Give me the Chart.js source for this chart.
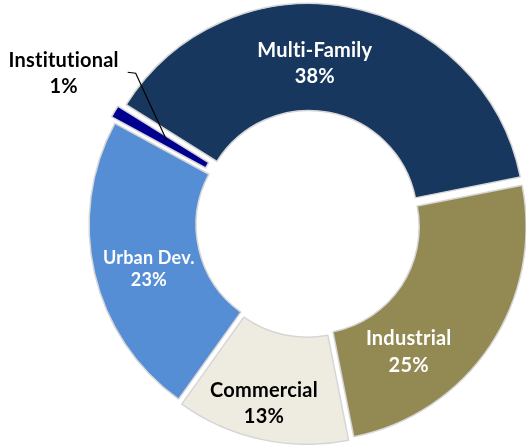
<!DOCTYPE html>
<html>
<head>
<meta charset="utf-8">
<script src="https://cdn.jsdelivr.net/npm/chart.js@4/dist/chart.umd.min.js"></script>
<style>
  html, body { margin: 0; padding: 0; background: #ffffff; }
  #wrap { width: 526px; height: 445px; }
</style>
</head>
<body>
<div id="wrap"><canvas id="c" width="526" height="445"></canvas></div>
<script>
// ---- data ----
const categories = ['Multi-Family', 'Industrial', 'Commercial', 'Urban Dev.', 'Institutional'];
const shares = [38, 25, 13, 23, 1];
const sliceColors = ['#17375E', '#938953', '#EEECE1', '#558ED5', '#000090'];

// ---- label styling (relative to each slice's centre point) ----
const labelStyle = [
  { dx: -24, dy: 1,  gap: 26, size: 20, color: '#ffffff' },
  { dx: -41, dy: 26, gap: 27, size: 20, color: '#ffffff' },
  { dx: -8,  dy: 6,  gap: 26, size: 20, color: '#000000' },
  { dx: 7,   dy: 2,  gap: 22, size: 18, color: '#ffffff' },
  { dx: -97, dy: -71, gap: 26, size: 20, color: '#000000', leader: true }
];

const labelPlugin = {
  id: 'sliceLabels',
  afterDatasetsDraw(chart) {
    const ctx = chart.ctx;
    const meta = chart.getDatasetMeta(0);
    const vals = chart.data.datasets[0].data;
    const total = vals.reduce((a, b) => a + b, 0);
    meta.data.forEach((arc, i) => {
      const st = labelStyle[i];
      const p = arc.getCenterPoint();
      const x = p.x + st.dx;
      const y = p.y + st.dy;
      const pct = Math.round(vals[i] / total * 100) + '%';
      ctx.save();
      ctx.font = 'bold ' + st.size + 'px Lato, "Open Sans", sans-serif';
      if ('letterSpacing' in ctx) ctx.letterSpacing = '0.2px';
      ctx.fillStyle = st.color;
      ctx.textAlign = 'center';
      ctx.textBaseline = 'alphabetic';
      ctx.fillText(chart.data.labels[i], x, y);
      ctx.fillText(pct, x, y + st.gap);
      if (st.leader) {
        const w = ctx.measureText(chart.data.labels[i]).width;
        const sx = x + w / 2 + 9;
        const sy = y + 5;
        ctx.strokeStyle = '#000000';
        ctx.lineWidth = 1.2;
        ctx.beginPath();
        ctx.moveTo(sx, sy);
        ctx.lineTo(sx + 8, sy + 1);
        ctx.lineTo(p.x + 6, p.y + 2);
        ctx.stroke();
      }
      ctx.restore();
    });
  }
};

new Chart(document.getElementById('c'), {
  type: 'doughnut',
  data: {
    labels: categories,
    datasets: [{
      data: shares,
      backgroundColor: sliceColors,
      borderColor: '#d6d6d6',
      borderWidth: 1.5,
      offset: 20
    }]
  },
  options: {
    responsive: false,
    animation: false,
    rotation: -58,
    cutout: '50%',
    radius: 214,
    layout: { padding: { left: 90, top: 3, right: 0, bottom: 0 } },
    plugins: {
      legend: { display: false },
      tooltip: { enabled: false }
    }
  },
  plugins: [labelPlugin]
});
</script>
</body>
</html>
